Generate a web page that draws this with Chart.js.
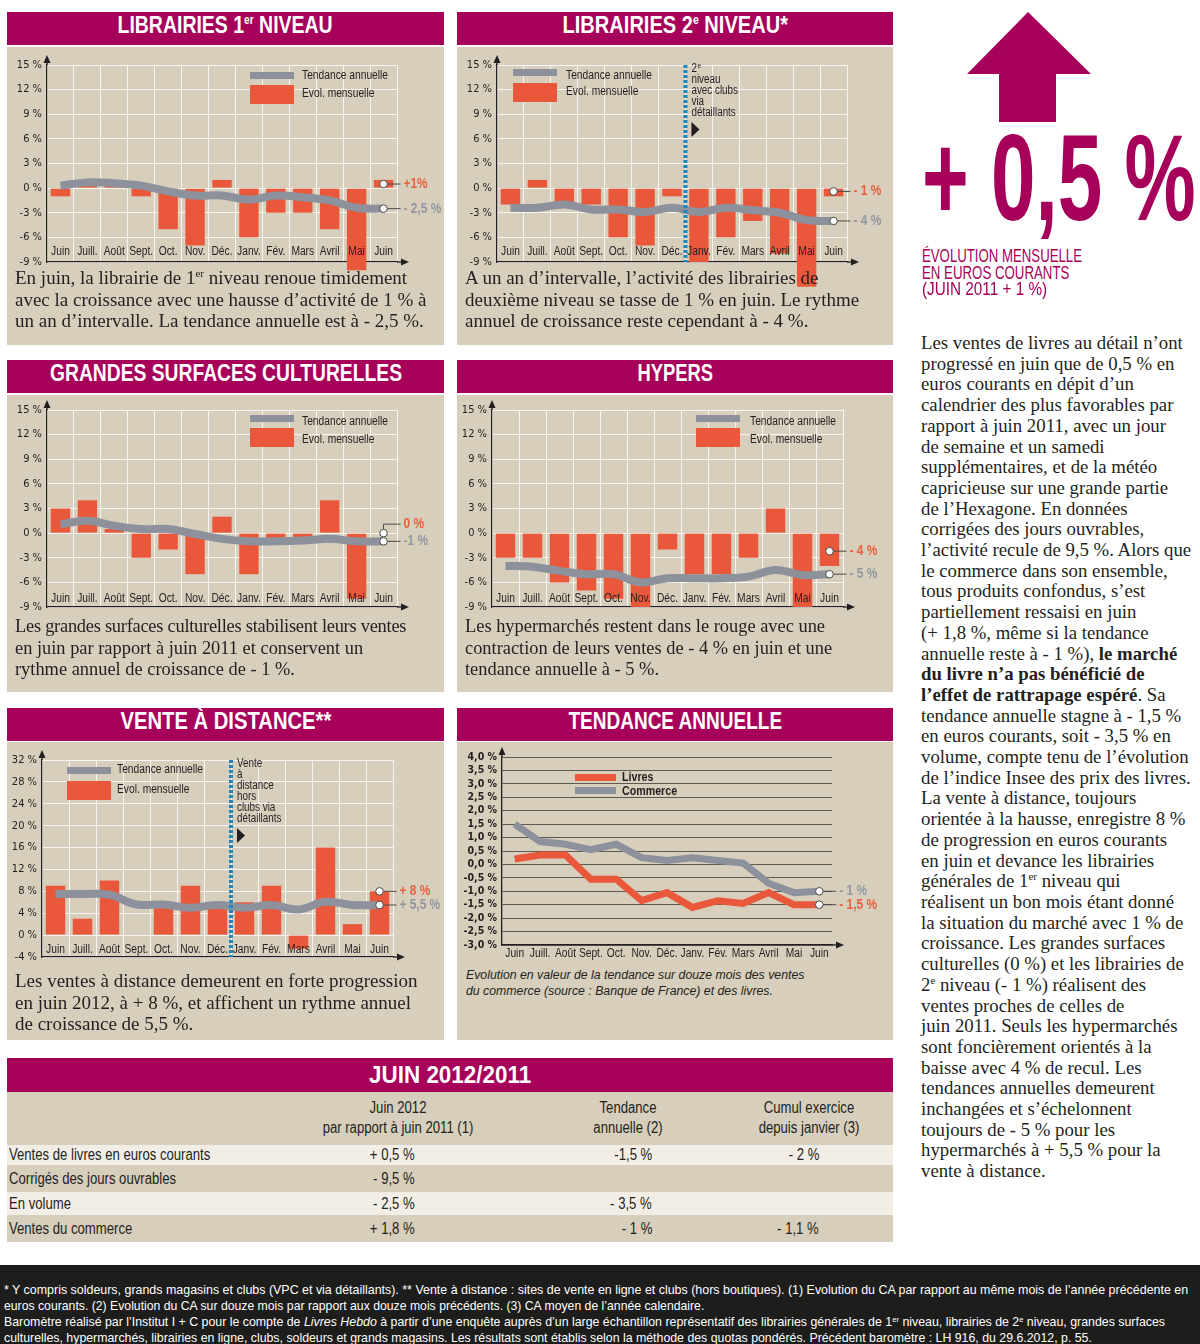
<!DOCTYPE html>
<html lang="fr">
<head>
<meta charset="utf-8">
<title>Baromètre Livres Hebdo – juin 2012</title>
<script src="https://cdn.jsdelivr.net/npm/chart.js@4.4.1/dist/chart.umd.min.js"></script>
<style>
  body { margin: 0; width: 1200px; height: 1344px; position: relative; overflow: hidden; background: #fff; color: #231f20; }
  .n { display: inline-block; white-space: nowrap; font-family: "Liberation Sans", Arial, sans-serif; transform: scaleX(0.82); transform-origin: 0 50%; }
  .hd { position: absolute; height: 33px; line-height: 34px; background: #a7005b; color: #fff; text-align: center; font: bold 23px "Liberation Sans", sans-serif; }
  .hd .n { transform-origin: 50% 50%; }
  .hd sup { font-size: 12px; line-height: 0; vertical-align: 0; position: relative; top: -9px; }
  .pn { position: absolute; background: #d7cebb; }
  .cv { position: absolute; left: 0; top: 0; }
  .txt { position: absolute; left: 8px; font: 19px/21.5px "Liberation Serif", serif; white-space: nowrap; }
  .txt sup, .body sup { font-size: 11px; line-height: 0; vertical-align: 0; position: relative; top: -7px; }
  .cap { position: absolute; left: 9px; font: italic 12.3px/16px "Liberation Sans", sans-serif; white-space: nowrap; }
  .body { position: absolute; left: 921px; top: 333px; font: 18.8px/20.7px "Liberation Serif", serif; white-space: nowrap; }
  .tb { position: absolute; left: 7px; width: 886px; font: 16px "Liberation Sans", sans-serif; }
  .tb > span { position: absolute; top: 0; }
  .tb .v { transform-origin: 100% 50%; }
  .tb .c { transform-origin: 50% 50%; text-align: center; }
  .beige { background: #d7cebb; }
  .light { background: #f2eee6; }
  .sub { position: absolute; left: 922px; color: #a7005b; font: 17.5px/16.5px "Liberation Sans", sans-serif; }
  .foot { position: absolute; left: 0; top: 1265px; width: 1200px; height: 79px; background: #1d1d1b; color: #fff; font: 13px/16px "Liberation Sans", sans-serif; }
  .foot > div { position: absolute; left: 4px; }
  .foot sup { font-size: 8px; line-height: 0; vertical-align: 0; position: relative; top: -4px; }
</style>
</head>
<body>

<!-- ===== Row 1 ===== -->
<div class="hd" style="left:7px;top:12px;width:437px"><span class="n" data-w="215">LIBRAIRIES 1<sup>er</sup> NIVEAU</span></div>
<div class="hd" style="left:457px;top:12px;width:436px"><span class="n" data-w="225">LIBRAIRIES 2<sup>e</sup> NIVEAU*</span></div>

<div class="pn" style="left:7px;top:47px;width:437px;height:298px">
  <div class="cv" style="width:437px;height:245px"><canvas id="lib1"></canvas></div>
  <div class="txt" style="top:220px">En juin, la librairie de 1<sup>er</sup> niveau renoue timidement<br>avec la croissance avec une hausse d’activité de 1 % à<br>un an d’intervalle. La tendance annuelle est à - 2,5 %.</div>
</div>
<div class="pn" style="left:457px;top:47px;width:436px;height:298px">
  <div class="cv" style="width:436px;height:245px"><canvas id="lib2"></canvas></div>
  <div class="txt" style="top:220px">A un an d’intervalle, l’activité des librairies de<br>deuxième niveau se tasse de 1 % en juin. Le rythme<br>annuel de croissance reste cependant à - 4 %.</div>
</div>

<!-- ===== Row 2 ===== -->
<div class="hd" style="left:7px;top:360px;width:437px"><span class="n" data-w="352">GRANDES SURFACES CULTURELLES</span></div>
<div class="hd" style="left:457px;top:360px;width:436px"><span class="n" data-w="76">HYPERS</span></div>

<div class="pn" style="left:7px;top:395px;width:437px;height:297px">
  <div class="cv" style="width:437px;height:240px"><canvas id="gsc"></canvas></div>
  <div class="txt" style="top:221px;font-size:18.4px"><span style="letter-spacing:-0.25px">Les grandes surfaces culturelles stabilisent leurs ventes</span><br>en juin par rapport à juin 2011 et conservent un<br>rythme annuel de croissance de - 1 %.</div>
</div>
<div class="pn" style="left:457px;top:395px;width:436px;height:297px">
  <div class="cv" style="width:436px;height:240px"><canvas id="hyper"></canvas></div>
  <div class="txt" style="top:221px;font-size:18.4px">Les hypermarchés restent dans le rouge avec une<br>contraction de leurs ventes de - 4 % en juin et une<br>tendance annuelle à - 5 %.</div>
</div>

<!-- ===== Row 3 ===== -->
<div class="hd" style="left:7px;top:708px;width:437px"><span class="n" data-w="211">VENTE À DISTANCE**</span></div>
<div class="hd" style="left:457px;top:708px;width:436px"><span class="n" data-w="214">TENDANCE ANNUELLE</span></div>

<div class="pn" style="left:7px;top:742px;width:437px;height:298px">
  <div class="cv" style="width:437px;height:240px"><canvas id="vad"></canvas></div>
  <div class="txt" style="top:228px">Les ventes à distance demeurent en forte progression<br>en juin 2012, à + 8 %, et affichent un rythme annuel<br>de croissance de 5,5 %.</div>
</div>
<div class="pn" style="left:457px;top:742px;width:436px;height:298px">
  <div class="cv" style="width:436px;height:225px"><canvas id="trend"></canvas></div>
  <div class="cap" style="top:225px">Evolution en valeur de la tendance sur douze mois des ventes<br>du commerce (source : Banque de France) et des livres.</div>
</div>

<!-- ===== Table ===== -->
<div class="hd" style="left:7px;top:1058px;width:886px;height:34px;line-height:35px"><span class="n" data-w="162">JUIN 2012/2011</span></div>
<div class="tb beige" style="top:1092px;height:53px;line-height:20px">
  <span class="n c" style="left:291px;width:200px;top:6px">Juin 2012<br>par rapport à juin 2011 (1)</span>
  <span class="n c" style="left:521px;width:200px;top:6px">Tendance<br>annuelle (2)</span>
  <span class="n c" style="left:702px;width:200px;top:6px">Cumul exercice<br>depuis janvier (3)</span>
</div>
<div class="tb light" style="top:1145px;height:20px;line-height:20px">
  <span class="n" style="left:2px">Ventes de livres en euros courants</span>
  <span class="n v" style="right:478px">+ 0,5 %</span><span class="n v" style="right:241px">-1,5 %</span><span class="n v" style="right:74px">- 2 %</span>
</div>
<div class="tb beige" style="top:1165px;height:27px;line-height:27px">
  <span class="n" style="left:2px">Corrigés des jours ouvrables</span>
  <span class="n v" style="right:478px">- 9,5 %</span>
</div>
<div class="tb light" style="top:1192px;height:23px;line-height:23px">
  <span class="n" style="left:2px">En volume</span>
  <span class="n v" style="right:478px">- 2,5 %</span><span class="n v" style="right:241px">- 3,5 %</span>
</div>
<div class="tb beige" style="top:1215px;height:27px;line-height:27px">
  <span class="n" style="left:2px">Ventes du commerce</span>
  <span class="n v" style="right:478px">+ 1,8 %</span><span class="n v" style="right:241px">- 1 %</span><span class="n v" style="right:74px">- 1,1 %</span>
</div>

<!-- ===== Right column ===== -->
<svg style="position:absolute;left:900px;top:0" width="300" height="130">
  <polygon points="128,12 191,74 156,74 156,122 99,122 99,74 67,74" fill="#a7005b"/>
</svg>
<div style="position:absolute;left:922px;top:116px;font:bold 123px/1 'Liberation Sans',sans-serif;color:#a7005b">
  <span class="n" data-w="274" style="transform-origin:0 0">+ 0,5 %</span>
</div>
<div class="sub" style="top:248px"><span class="n" data-w="160">ÉVOLUTION MENSUELLE</span></div>
<div class="sub" style="top:264.5px"><span class="n" data-w="147">EN EUROS COURANTS</span></div>
<div class="sub" style="top:281px"><span class="n" data-w="125">(JUIN 2011 + 1 %)</span></div>

<div class="body">Les ventes de livres au détail n’ont<br>progressé en juin que de 0,5 % en<br>euros courants en dépit d’un<br>calendrier des plus favorables par<br>rapport à juin 2011, avec un jour<br>de semaine et un samedi<br>supplémentaires, et de la météo<br>capricieuse sur une grande partie<br>de l’Hexagone. En données<br>corrigées des jours ouvrables,<br>l’activité recule de 9,5 %. Alors que<br>le commerce dans son ensemble,<br>tous produits confondus, s’est<br>partiellement ressaisi en juin<br>(+ 1,8 %, même si la tendance<br>annuelle reste à - 1 %), <b>le marché</b><br><b>du livre n’a pas bénéficié de</b><br><b>l’effet de rattrapage espéré</b>. Sa<br>tendance annuelle stagne à - 1,5 %<br>en euros courants, soit - 3,5 % en<br>volume, compte tenu de l’évolution<br>de l’indice Insee des prix des livres.<br>La vente à distance, toujours<br>orientée à la hausse, enregistre 8 %<br>de progression en euros courants<br>en juin et devance les librairies<br>générales de 1<sup>er</sup> niveau qui<br>réalisent un bon mois étant donné<br>la situation du marché avec 1 % de<br>croissance. Les grandes surfaces<br>culturelles (0 %) et les librairies de<br>2<sup>e</sup> niveau (- 1 %) réalisent des<br>ventes proches de celles de<br>juin 2011. Seuls les hypermarchés<br>sont foncièrement orientés à la<br>baisse avec 4 % de recul. Les<br>tendances annuelles demeurent<br>inchangées et s’échelonnent<br>toujours de - 5 % pour les<br>hypermarchés à + 5,5 % pour la<br>vente à distance.</div>

<!-- ===== Footer ===== -->
<div class="foot">
  <div style="top:17px"><span class="n" data-w="1184">* Y compris soldeurs, grands magasins et clubs (VPC et via détaillants). ** Vente à distance : sites de vente en ligne et clubs (hors boutiques). (1) Evolution du CA par rapport au même mois de l’année précédente en</span></div>
  <div style="top:33px"><span class="n" data-w="700">euros courants. (2) Evolution du CA sur douze mois par rapport aux douze mois précédents. (3) CA moyen de l’année calendaire.</span></div>
  <div style="top:49px"><span class="n" data-w="1161">Baromètre réalisé par l’Institut I + C pour le compte de <i>Livres Hebdo</i> à partir d’une enquête auprès d’un large échantillon représentatif des librairies générales de 1<sup>er</sup> niveau, librairies de 2<sup>e</sup> niveau, grandes surfaces</span></div>
  <div style="top:65px"><span class="n" data-w="1088">culturelles, hypermarchés, librairies en ligne, clubs, soldeurs et grands magasins. Les résultats sont établis selon la méthode des quotas pondérés. Précédent baromètre : LH 916, du 29.6.2012, p. 55.</span></div>
</div>

<script>
/* =========================================================
   BAROMETRE LIVRES HEBDO - JUIN 2012 (Chart.js)
========================================================= */

const MONTHS = ['Juin', 'Juill.', 'Août', 'Sept.', 'Oct.', 'Nov.', 'Déc.', 'Janv.', 'Fév.', 'Mars', 'Avril', 'Mai', 'Juin'];

// y-axis tick values
const PCT_TICKS = [-9, -6, -3, 0, 3, 6, 9, 12, 15];
const VAD_TICKS = [-4, 0, 4, 8, 12, 16, 20, 24, 28, 32];
const TREND_TICKS = [-3, -2.5, -2, -1.5, -1, -0.5, 0, 0.5, 1, 1.5, 2, 2.5, 3, 3.5, 4];

// Evol. mensuelle (bars) and tendance annuelle (line), in %
const lib1Evol = [-1, 1, 0.5, -1, -5, -7, 1, -6, -3, -3, -5, -10, 1];
const lib1Trend = [0.3, 0.7, 0.6, 0.3, -0.4, -0.9, -0.9, -1.4, -0.9, -1.1, -1.5, -2.4, -2.5];
const lib2Evol = [-2, 1, -2, -2, -6, -7, -1, -9, -6, -4, -8, -12, -1];
const lib2Trend = [-2.4, -2.4, -2, -2.6, -2.6, -2.9, -2.4, -2.9, -2.4, -2.7, -3, -3.9, -4];
const gscEvol = [3, 4, 0.5, -3, -2, -5, 2, -5, -1, -1, 4, -8, 0];
const gscTrend = [1.1, 1.5, 0.9, 0.5, 0.5, -0.1, -0.7, -1, -1, -0.9, -0.7, -1, -1];
const hyperEvol = [-3, -3, -6, -7, -8, -9, -2, -5, -5, -3, 3, -9, -4];
const hyperTrend = [-4, -4.1, -4.6, -5, -5, -6, -5.5, -5.5, -5.5, -5.3, -4.5, -5.1, -5];
const vadEvol = [9, 3, 10, 0, 5, 9, 5, 6, 9, -2.5, 16, 2, 8];
const vadTrend = [7.5, 7.5, 7.4, 5.6, 5.6, 5, 5.5, 5, 5.5, 4.7, 6.1, 5.5, 5.5];

// Tendance annuelle: livres vs commerce
const livresTrend = [0.2, 0.35, 0.35, -0.55, -0.55, -1.35, -1.05, -1.6, -1.35, -1.45, -1.05, -1.5, -1.5];
const commerceTrend = [1.5, 0.85, 0.75, 0.55, 0.75, 0.25, 0.15, 0.25, 0.15, 0.05, -0.7, -1.05, -1.0];

// squeeze condensed-looking HTML labels to their measured widths
document.querySelectorAll('[data-w]').forEach(el => {
    el.style.transform = 'scaleX(' + (+el.dataset.w / el.offsetWidth).toFixed(4) + ')';
});

const SANS = '"Liberation Sans", Arial, sans-serif';
const COND = '"DejaVu Sans Condensed", "Liberation Sans", sans-serif';
const RED = '#e9583b';
const GRAY = '#8c919c';
const RED_T = '#e8603f';
const GRAY_T = '#9297a1';
const INK = '#231f20';
const BLUE = '#1c88c2';
const GRID = 'rgba(255,255,255,0.8)';

const pct = v => v + ' %';
const pct1 = v => v.toFixed(1).replace('.', ',') + ' %';

// Liberation Sans squeezed to 82 % = a "narrow" face
function narrowText(ctx, text, x, y, font, align) {
    ctx.save();
    ctx.translate(x, y);
    ctx.scale(0.82, 1);
    ctx.font = font;
    ctx.textAlign = align || 'left';
    ctx.fillText(text, 0, 0);
    const w = ctx.measureText(text).width * 0.82;
    ctx.restore();
    return w;
}

// extra drawing: split line, month labels, legend, axis arrows, end labels
const decor = {
    id: 'decor',
    afterDatasetsDraw(chart, args, o) {
        const { ctx, chartArea: a, scales: { x, y } } = chart;
        ctx.save();
        ctx.textBaseline = 'middle';

        if (o.split) {
            const sx = (x.getPixelForValue(o.split.after) + x.getPixelForValue(o.split.after + 1)) / 2;
            ctx.strokeStyle = BLUE;
            ctx.lineWidth = 4;
            ctx.setLineDash([3, 2]);
            ctx.beginPath(); ctx.moveTo(sx, a.top); ctx.lineTo(sx, a.bottom); ctx.stroke();
            ctx.setLineDash([]);
            ctx.fillStyle = INK;
            o.split.lines.forEach((t, i) => {
                const ty = a.top + 4 + i * 11;
                const [main, sup] = t.split('^');
                const w = narrowText(ctx, main, sx + 6, ty, '12px ' + SANS);
                if (sup) narrowText(ctx, sup, sx + 6.5 + w, ty - 3, '8px ' + SANS);
            });
            const ty = a.top + 4 + o.split.lines.length * 11 - 2;
            ctx.beginPath(); ctx.moveTo(sx + 6, ty); ctx.lineTo(sx + 14, ty + 7.5); ctx.lineTo(sx + 6, ty + 15); ctx.closePath(); ctx.fill();
        }

        if (o.months) {
            ctx.fillStyle = INK;
            chart.data.labels.forEach((l, i) => narrowText(ctx, l, x.getPixelForValue(i), a.bottom + o.months, '12.5px ' + SANS, 'center'));
        }

        if (o.legend) {
            const L = o.legend;
            L.items.forEach(it => {
                ctx.fillStyle = it.color;
                ctx.fillRect(a.left + L.x, a.top + it.sy, L.w, it.h);
                ctx.fillStyle = INK;
                narrowText(ctx, it.label, a.left + L.x + L.w + L.gap, a.top + it.ty, (L.bold ? 'bold ' : '') + L.size + 'px ' + SANS);
            });
        }

        // axis arrows
        ctx.fillStyle = INK;
        ctx.strokeStyle = INK;
        ctx.lineWidth = 1.3;
        ctx.beginPath(); ctx.moveTo(a.left, a.top); ctx.lineTo(a.left, a.top - 4); ctx.stroke();
        ctx.beginPath(); ctx.moveTo(a.left - 3.5, a.top - 2); ctx.lineTo(a.left, a.top - 10); ctx.lineTo(a.left + 3.5, a.top - 2); ctx.closePath(); ctx.fill();
        ctx.beginPath(); ctx.moveTo(a.right, a.bottom); ctx.lineTo(a.right + 6, a.bottom); ctx.stroke();
        ctx.beginPath(); ctx.moveTo(a.right + 4, a.bottom - 3.5); ctx.lineTo(a.right + 12, a.bottom); ctx.lineTo(a.right + 4, a.bottom + 3.5); ctx.closePath(); ctx.fill();

        // last-value call-outs
        (o.ends || []).forEach(e => {
            const ds = chart.data.datasets[e.ds];
            const i = ds.data.length - 1;
            const cx = x.getPixelForValue(i);
            const cy = y.getPixelForValue(ds.data[i] * (e.frac ?? 1));
            const ly = cy + (e.dy || 0);
            ctx.strokeStyle = '#4a4a4a';
            ctx.lineWidth = 1;
            ctx.beginPath(); ctx.moveTo(cx, cy); if (e.dy) ctx.lineTo(cx, ly); ctx.lineTo(cx + 17, ly); ctx.stroke();
            ctx.beginPath(); ctx.arc(cx, cy, 3.8, 0, Math.PI * 2);
            ctx.fillStyle = '#fff'; ctx.fill(); ctx.stroke();
            ctx.fillStyle = e.color;
            narrowText(ctx, e.label, cx + 20, ly, 'bold 14.5px ' + SANS);
        });
        ctx.restore();
    }
};

function barLegend(x, sy1, ty1, sy2, ty2, gap) {
    return {
        x: x, w: 44, gap: gap, size: 12.5, items: [
            { label: 'Tendance annuelle', color: GRAY, sy: sy1, h: 7, ty: ty1 },
            { label: 'Evol. mensuelle', color: RED, sy: sy2, h: 19, ty: ty2 }
        ]
    };
}

function initBarChart(id, evol, trend, ticks, box, deco) {
    return new Chart(document.getElementById(id), {
        data: {
            labels: MONTHS,
            datasets: [{
                type: 'line',
                data: trend,
                borderColor: GRAY,
                borderWidth: 8,
                tension: 0.4,
                pointRadius: 0,
                order: 0
            }, {
                type: 'bar',
                data: evol,
                backgroundColor: RED,
                barPercentage: 0.72,
                categoryPercentage: 1,
                clip: false,
                order: 1
            }]
        },
        options: {
            responsive: true,
            maintainAspectRatio: false,
            animation: false,
            layout: { padding: { left: 0, right: box.r, top: box.t, bottom: box.b } },
            plugins: { legend: { display: false }, tooltip: { enabled: false }, decor: deco },
            scales: {
                x: {
                    grid: { color: GRID, drawTicks: false, offset: true },
                    border: { color: INK, width: 1.3 },
                    ticks: { display: false },
                    afterFit: a => { a.height = 0; }
                },
                y: {
                    min: ticks[0],
                    max: ticks[ticks.length - 1],
                    afterBuildTicks: a => { a.ticks = ticks.map(v => ({ value: v })); },
                    grid: { color: GRID, drawTicks: false },
                    border: { color: INK, width: 1.3 },
                    ticks: { autoSkip: false, callback: pct, color: INK, padding: 5, font: { family: COND, size: 11 } },
                    afterFit: a => { a.width = box.w; }
                }
            }
        },
        plugins: [decor]
    });
}

initBarChart('lib1', lib1Evol, lib1Trend, PCT_TICKS, { w: 40, r: 47, t: 18, b: 30 }, {
    months: -10,
    legend: barLegend(203, 7, 11, 20, 29, 8),
    ends: [{ ds: 1, frac: 0.5, label: '+1%', color: RED_T }, { ds: 0, label: '- 2,5 %', color: GRAY_T }]
});

initBarChart('lib2', lib2Evol, lib2Trend, PCT_TICKS, { w: 40, r: 46, t: 18, b: 30 }, {
    months: -10,
    legend: barLegend(16, 4, 11, 18, 27, 9),
    split: { after: 6, lines: ['2^e', 'niveau', 'avec clubs', 'via', 'détaillants'] },
    ends: [{ ds: 1, frac: 0.4, label: '- 1 %', color: RED_T }, { ds: 0, label: '- 4 %', color: GRAY_T }]
});

initBarChart('gsc', gscEvol, gscTrend, PCT_TICKS, { w: 40, r: 47, t: 15, b: 28 }, {
    months: -8,
    legend: barLegend(203, 5, 12, 18, 30, 8),
    ends: [{ ds: 1, label: '0 %', color: RED_T, dy: -9 }, { ds: 0, label: '-1 %', color: GRAY_T }]
});

initBarChart('hyper', hyperEvol, hyperTrend, PCT_TICKS, { w: 35, r: 50, t: 15, b: 28 }, {
    months: -8,
    legend: barLegend(204, 5, 12, 18, 30, 10),
    ends: [{ ds: 1, frac: 0.55, label: '- 4 %', color: RED_T }, { ds: 0, label: '- 5 %', color: GRAY_T }]
});

initBarChart('vad', vadEvol, vadTrend, VAD_TICKS, { w: 35, r: 51, t: 18, b: 25 }, {
    months: -7,
    legend: barLegend(25, 7, 10, 21, 30, 6),
    split: { after: 6, lines: ['Vente', 'à', 'distance', 'hors', 'clubs via', 'détaillants'] },
    ends: [{ ds: 1, label: '+ 8 %', color: RED_T }, { ds: 0, label: '+ 5,5 %', color: GRAY_T }]
});

function initTrendChart() {
    new Chart(document.getElementById('trend'), {
        type: 'line',
        data: {
            labels: MONTHS,
            datasets: [{
                data: livresTrend,
                borderColor: RED,
                borderWidth: 7,
                tension: 0,
                pointRadius: 0,
                order: 0
            }, {
                data: commerceTrend,
                borderColor: GRAY,
                borderWidth: 7,
                tension: 0,
                pointRadius: 0,
                order: 1
            }]
        },
        options: {
            responsive: true,
            maintainAspectRatio: false,
            animation: false,
            layout: { padding: { left: 0, right: 61, top: 15, bottom: 22 } },
            plugins: {
                legend: { display: false },
                tooltip: { enabled: false },
                decor: {
                    months: 9,
                    legend: {
                        x: 73, w: 41, gap: 6, size: 13, bold: true, items: [
                            { label: 'Livres', color: RED, sy: 17, h: 7, ty: 20 },
                            { label: 'Commerce', color: GRAY, sy: 30, h: 7, ty: 34 }
                        ]
                    },
                    ends: [{ ds: 1, label: '- 1 %', color: GRAY_T }, { ds: 0, label: '- 1,5 %', color: RED_T }]
                }
            },
            scales: {
                x: {
                    offset: true,
                    grid: { display: false },
                    border: { color: INK, width: 1.3 },
                    ticks: { display: false },
                    afterFit: a => { a.height = 0; }
                },
                y: {
                    min: -3,
                    max: 4,
                    afterBuildTicks: a => { a.ticks = TREND_TICKS.map(v => ({ value: v })); },
                    grid: { color: '#5d5850', drawTicks: false },
                    border: { color: INK, width: 1.3 },
                    ticks: { autoSkip: false, callback: pct1, color: INK, padding: 5, font: { family: COND, size: 10.5, weight: 'bold' } },
                    afterFit: a => { a.width = 45; }
                }
            }
        },
        plugins: [decor]
    });
}

initTrendChart();
</script>
</body>
</html>
